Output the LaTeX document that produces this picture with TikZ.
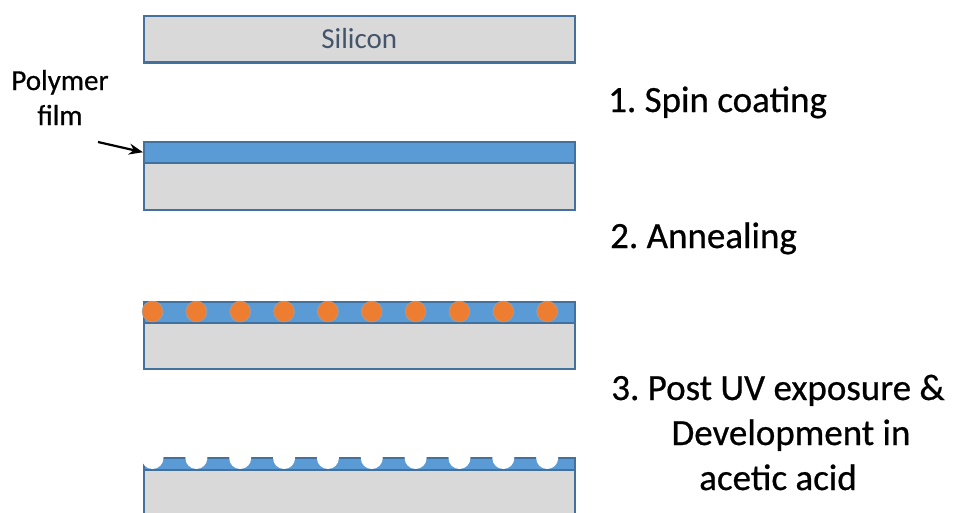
\documentclass[tikz,border=0pt]{standalone}
\usepackage{fontspec}
\setmainfont{Carlito}
\usepackage{tikz}
\usetikzlibrary{arrows.meta}
\frenchspacing

\definecolor{filmblue}{HTML}{5B9BD5}
\definecolor{edgeblue}{HTML}{41719C}
\definecolor{sigray}{HTML}{D9D9D9}
\definecolor{grainorange}{HTML}{ED7D31}
\definecolor{slate}{HTML}{44546A}

\begin{document}
\begin{tikzpicture}[
    x=1pt, y=-1pt,
    wafer/.style={rectangle, draw=edgeblue, line width=1.5pt, fill=sigray,
                  minimum width=431pt, anchor=north west, inner sep=0pt,
                  font=\fontsize{29}{35}\selectfont, text=slate},
    film/.style={rectangle, draw=edgeblue, line width=1.5pt, fill=filmblue,
                 minimum width=431pt, anchor=north west, inner sep=0pt},
    grain/.style={circle, fill=grainorange, draw=edgeblue!60, line width=0.4pt,
                  minimum size=21pt, inner sep=0pt},
    pore/.style={circle, fill=white, minimum size=22pt, inner sep=0pt},
    note/.style={inner sep=0pt, align=center,
                 font=\fontsize{29}{35}\selectfont\addfontfeature{FakeBold=0.6}},
    stepline/.style={inner sep=0pt, align=center,
                     font=\fontsize{37}{45}\selectfont\addfontfeature{FakeBold=0.6}},
    pointer/.style={-{Stealth[length=14pt, width=11pt]}, line width=2.2pt, black}
]
\useasboundingbox (0,0) rectangle (953,512);
\clip (0,0) rectangle (953,512);

% bare silicon
\node[wafer, minimum height=46pt] (si1) at (143,15) {Silicon};
\draw[edgeblue, line width=2.5pt] (si1.south west) -- (si1.south east);

% 1. spin coating
\node[film, minimum height=21pt] (film2) at (143,141) {};
\node[wafer, minimum height=47pt] (si2) at (143,162) {};
\node[note, anchor=base] (polylbl) at (60,125) {Polymer\\film};
\coordinate (ptail) at (98,142);
\draw[pointer] (ptail) -- (film2.west);

% 2. annealing
\node[film, minimum height=21pt] (film3) at (143,301) {};
\node[wafer, minimum height=46pt] (si3) at (143,322) {};
\foreach \i in {0,...,9}
    \node[grain] (g\i) at ({152.5+43.85*\i},311.5) {};

% 3. UV exposure and development
\node[film, minimum height=12pt] (film4) at (143,457) {};
\node[wafer, minimum height=80pt] (si4) at (143,469) {};
\foreach \i in {0,...,9}
    \node[pore] (p\i) at ({152.5+43.85*\i},458) {};

% step labels
\node[stepline, anchor=base west] (step1) at (608,112) {1. Spin coating};
\node[stepline, anchor=base west] (step2) at (610,248) {2. Annealing};
\node[stepline, anchor=base] (step3) at (778,490)
    {3. Post UV exposure \&\\\hspace*{26pt}Development in\\acetic acid};
\end{tikzpicture}
\end{document}
